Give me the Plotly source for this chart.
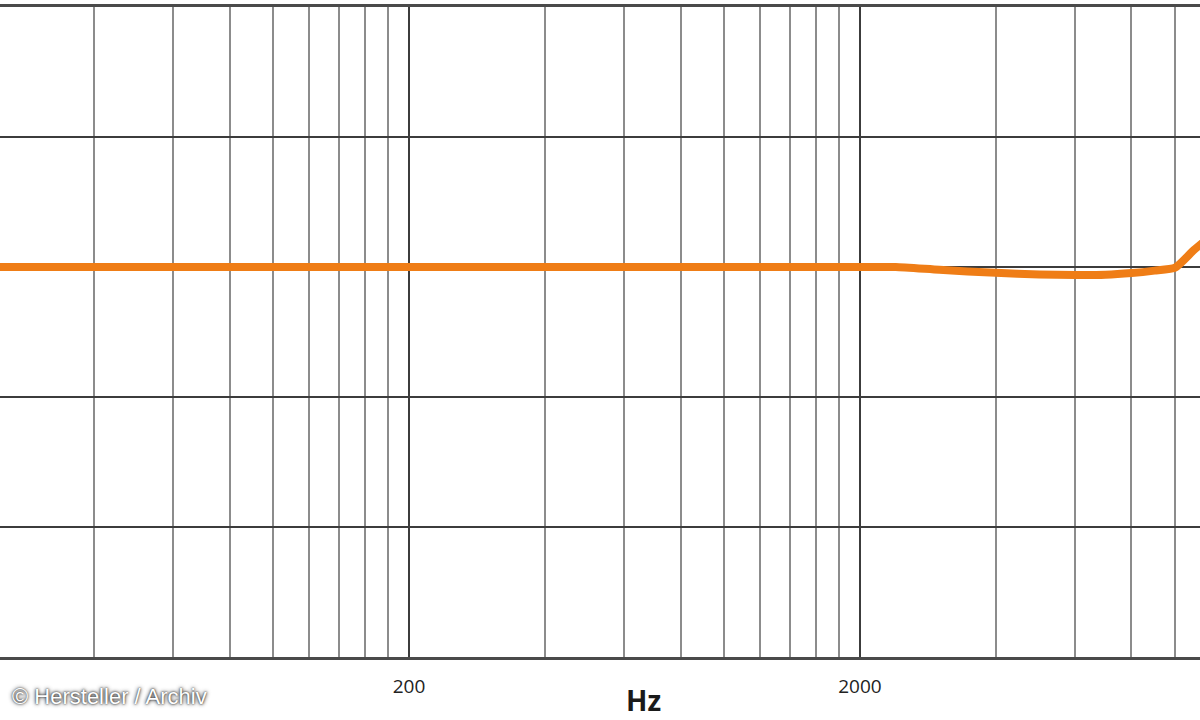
import plotly.graph_objects as go

# frequency response, level in dB relative to the 0 line
freq_hz = [20, 100, 500, 1000, 2000, 2400, 3000, 4000, 5000, 6000, 7000, 8000, 9000, 10000, 11000, 12000]
level_db = [0, 0, 0, 0, 0, 0, -0.22, -0.45, -0.57, -0.62, -0.6, -0.47, -0.28, -0.05, 1.3, 2.4]

major_ticks = [200, 2000]
major_labels = ["200", "2000"]
minor_ticks = [40, 60, 80, 100, 120, 140, 160, 180,
               400, 600, 800, 1000, 1200, 1400, 1600, 1800,
               4000, 6000, 8000, 10000]
level_grid = [-20, -10, 0, 10]

fig = go.Figure()
fig.add_trace(go.Scatter(
    x=freq_hz, y=level_db, mode="lines",
    line=dict(color="#EF7D16", width=8, shape="spline", smoothing=0.5),
    showlegend=False, hoverinfo="skip",
))

fig.update_xaxes(
    type="log", range=[1.3941, 4.0550],
    tickvals=major_ticks, ticktext=major_labels,
    showgrid=True, gridcolor="#3c3c3c", gridwidth=2,
    ticks="", ticklabelstandoff=10,
    tickfont=dict(family="Open Sans", size=19, color="#222222"),
    minor=dict(tickvals=minor_ticks, showgrid=True, gridcolor="#8c8c8c", gridwidth=2, ticks=""),
    showline=True, mirror=True, linecolor="#4a4a4a", linewidth=2.5,
    zeroline=False,
)
fig.update_yaxes(
    range=[-30, 20], tickvals=level_grid, showticklabels=False,
    showgrid=True, gridcolor="#3c3c3c", gridwidth=2, zeroline=False, ticks="",
)

# axis unit and copyright note sit in the bottom margin
fig.add_annotation(text="<b>Hz</b>", x=643 / 1200, y=-0.066, xref="paper", yref="paper",
                   showarrow=False, xanchor="center", yanchor="middle",
                   font=dict(family="Open Sans", size=28, color="#1a1a1a"))
fig.add_annotation(text="© Hersteller / Archiv", x=0.008, y=-0.0615, xref="paper", yref="paper",
                   showarrow=False, xanchor="left", yanchor="middle",
                   font=dict(family="Liberation Sans", size=22, color="white",
                             shadow="0 0 4px #222, 0 0 2px #222"))

fig.update_layout(
    width=1200, height=720,
    margin=dict(l=0, r=0, t=7, b=63),
    plot_bgcolor="white", paper_bgcolor="white",
)

fig.write_html("out.html", config={"displayModeBar": False},
               post_script="document.body.style.margin='0';")
